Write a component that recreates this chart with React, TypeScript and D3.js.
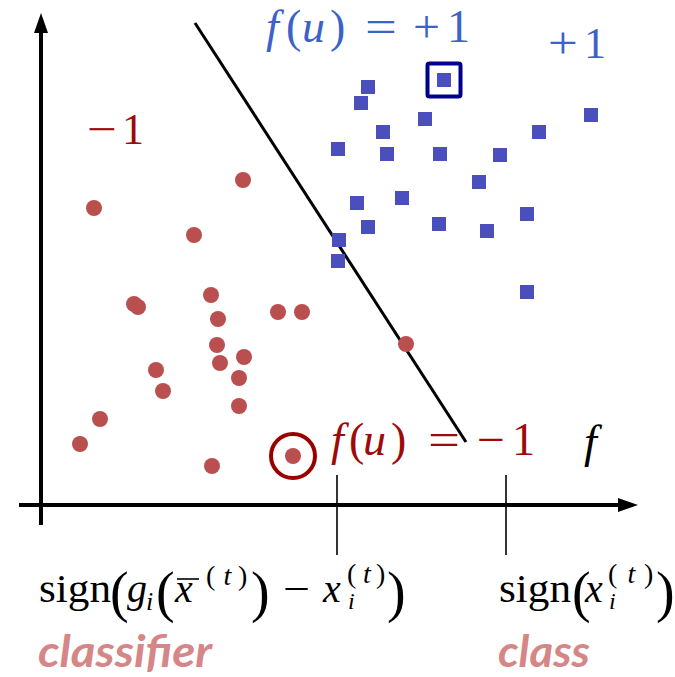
import React from "react";
import * as d3 from "d3";

const W = 675;
const H = 677;

// class +1 samples (squares)
const positives: [number, number][] = [
  [327, 418], [320, 402], [403, 425], [384, 386], [342, 373], [297, 356],
  [346, 351], [399, 351], [459, 350], [498, 373], [550, 390], [438, 323],
  [316, 302], [361, 307], [327, 278], [398, 281], [446, 274], [486, 291],
  [298, 265], [297, 244], [486, 213],
];
// class -1 samples (circles)
const negatives: [number, number][] = [
  [202, 325], [53, 297], [153, 270], [93, 201], [97, 198], [170, 210],
  [177, 186], [237, 193], [261, 193], [176, 160], [179, 142], [203, 148],
  [198, 127], [115, 135], [122, 114], [198, 99], [59, 86], [39, 61],
  [171, 39], [252, 49], [365, 161],
];
const highlightPosIndex = 2;
const highlightNegIndex = 19;
const boundary: [number, number][] = [[154, 482], [425, 63]];
const tickValues = [296, 465];

const x = d3.scaleLinear().domain([0, 600]).range([41, 641]);
const y = d3.scaleLinear().domain([0, 500]).range([505, 5]);

const SERIF = "'Liberation Serif', 'DejaVu Serif', serif";

type P = {
  t: string; x: number; y: number; s: number; it?: boolean; len?: number; fill: string;
};
const Piece = ({ t, x, y, s, it, len, fill }: P) => (
  <text
    x={x}
    y={y}
    fontSize={s}
    fontFamily={SERIF}
    fontStyle={it ? "italic" : "normal"}
    fill={fill}
    textLength={len}
    lengthAdjust={len ? "spacingAndGlyphs" : undefined}
  >
    {t}
  </text>
);

// superscript "(t)" built from three pieces
const SupT = ({ x0, x1, y, fill }: { x0: number; x1: number; y: number; fill: string }) => (
  <g>
    <Piece t="(" x={x0} y={y} s={28} fill={fill} />
    <Piece t="t" x={(x0 + x1) / 2 - 3} y={y} s={28} it fill={fill} />
    <Piece t=")" x={x1 - 9} y={y} s={28} fill={fill} />
  </g>
);

export default function App() {
  const line = d3.line<[number, number]>().x((d) => x(d[0])).y((d) => y(d[1]));
  const sq = 14;
  const blue = "#3c62c9";
  const red = "#9e0a0a";
  const pink = "#d58686";
  const x0 = x(0);
  const y0 = y(0);
  const yTop = y(492);
  const xEnd = x(597);
  const hp = positives[highlightPosIndex];
  const hn = negatives[highlightNegIndex];

  return (
    <svg
      width={W}
      height={H}
      style={{ position: "absolute", left: 0, top: 0, background: "#fff" }}
    >
      {/* axes */}
      <line x1={x0} y1={y(-20)} x2={x0} y2={yTop + 16} stroke="#000" strokeWidth={4} />
      <path d={`M${x0},${yTop} L${x0 - 7},${yTop + 20} L${x0 + 7},${yTop + 20} Z`} fill="#000" />
      <line x1={x(-22)} y1={y0} x2={xEnd - 16} y2={y0} stroke="#000" strokeWidth={4} />
      <path d={`M${xEnd},${y0} L${xEnd - 20},${y0 - 7} L${xEnd - 20},${y0 + 7} Z`} fill="#000" />
      {tickValues.map((v, i) => (
        <line key={i} x1={x(v)} x2={x(v)} y1={y(30)} y2={y(-50)} stroke="#000" strokeWidth={1.6} />
      ))}

      {/* decision boundary */}
      <path d={line(boundary) || ""} stroke="#000" strokeWidth={3} fill="none" />

      {/* points */}
      {negatives.map((d, i) => (
        <circle key={"n" + i} cx={x(d[0])} cy={y(d[1])} r={8} fill="#b94f4f" />
      ))}
      {positives.map((d, i) => (
        <rect key={"p" + i} x={x(d[0]) - sq / 2} y={y(d[1]) - sq / 2} width={sq} height={sq} fill="#4a4fbd" />
      ))}
      <rect x={x(hp[0]) - 16.5} y={y(hp[1]) - 16.5} width={33} height={33} rx={2} fill="none" stroke="#00008c" strokeWidth={4} />
      <circle cx={x(hn[0])} cy={y(hn[1])} r={22} fill="none" stroke="#990000" strokeWidth={4} />

      {/* f(u) = +1 */}
      <Piece t="f" x={266} y={42} s={46} it fill={blue} />
      <Piece t="(" x={286} y={42} s={46} fill={blue} />
      <Piece t="u" x={302} y={42} s={46} it fill={blue} />
      <Piece t=")" x={330} y={42} s={46} fill={blue} />
      <Piece t="=" x={365} y={42} s={46} len={32} fill={blue} />
      <Piece t="+" x={413} y={42} s={46} len={27} fill={blue} />
      <Piece t="1" x={447} y={42} s={46} fill={blue} />

      {/* +1 label */}
      <Piece t="+" x={548} y={58} s={44} len={30} fill={blue} />
      <Piece t="1" x={584} y={58} s={44} fill={blue} />

      {/* -1 label */}
      <Piece t="−" x={87} y={144} s={44} len={30} fill={red} />
      <Piece t="1" x={122} y={144} s={44} fill={red} />

      {/* f(u) = -1 */}
      <Piece t="f" x={331} y={455} s={46} it fill={red} />
      <Piece t="(" x={349} y={455} s={46} fill={red} />
      <Piece t="u" x={363} y={455} s={46} it fill={red} />
      <Piece t=")" x={391} y={455} s={46} fill={red} />
      <Piece t="=" x={428} y={455} s={46} len={32} fill={red} />
      <Piece t="−" x={477} y={455} s={46} len={28} fill={red} />
      <Piece t="1" x={512} y={455} s={46} fill={red} />

      {/* f */}
      <Piece t="f" x={584} y={457} s={46} it fill="#000" />

      {/* sign(g_i(x̄^(t)) − x_i^(t)) */}
      <Piece t="sign" x={39} y={602} s={40} len={72} fill="#000" />
      <Piece t="(" x={110} y={611} s={56} fill="#000" />
      <Piece t="g" x={127} y={602} s={40} it fill="#000" />
      <Piece t="i" x={146} y={610} s={26} it fill="#000" />
      <Piece t="(" x={156} y={611} s={56} fill="#000" />
      <Piece t="x" x={175} y={602} s={40} it fill="#000" />
      <line x1={177} x2={199} y1={579} y2={579} stroke="#000" strokeWidth={1.6} />
      <SupT x0={206} x1={247} y={585} fill="#000" />
      <Piece t=")" x={251} y={611} s={56} fill="#000" />
      <Piece t="−" x={283} y={602} s={40} len={27} fill="#000" />
      <Piece t="x" x={323} y={602} s={40} it fill="#000" />
      <SupT x0={347} x1={385} y={583} fill="#000" />
      <Piece t="i" x={348} y={609} s={24} it fill="#000" />
      <Piece t=")" x={387} y={611} s={56} fill="#000" />

      {/* sign(x_i^(t)) */}
      <Piece t="sign" x={499} y={602} s={40} len={72} fill="#000" />
      <Piece t="(" x={572} y={611} s={56} fill="#000" />
      <Piece t="x" x={585} y={602} s={40} it fill="#000" />
      <SupT x0={608} x1={653} y={583} fill="#000" />
      <Piece t="i" x={609} y={609} s={24} it fill="#000" />
      <Piece t=")" x={656} y={611} s={56} fill="#000" />

      {/* captions */}
      <text x={38} y={667} fontFamily="Lato, 'Open Sans', sans-serif" fontWeight="bold" fontStyle="italic" fontSize={44} fill={pink} textLength={174} lengthAdjust="spacingAndGlyphs">
        classifier
      </text>
      <text x={498} y={667} fontFamily="Lato, 'Open Sans', sans-serif" fontWeight="bold" fontStyle="italic" fontSize={44} fill={pink} textLength={92} lengthAdjust="spacingAndGlyphs">
        class
      </text>
    </svg>
  );
}
